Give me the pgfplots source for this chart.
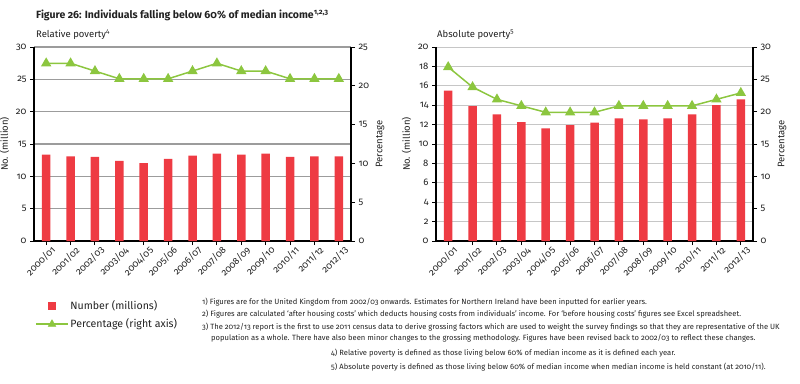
\documentclass[border=0pt]{standalone}
\usepackage{fontspec}
\setmainfont{Fira Sans}[Numbers=OldStyle]
\usepackage{pgfplots}
\pgfplotsset{compat=1.18}
\definecolor{barred}{HTML}{EE3B43}
\definecolor{lgreen}{HTML}{8CC63F}
\definecolor{gridA}{HTML}{9C9C9C}
\definecolor{gridB}{HTML}{C6C6C6}
\definecolor{txt}{HTML}{222222}
\pgfplotsset{
  base/.style={
    scale only axis, width=317pt, height=194pt, anchor=south west,
    xmin=-0.5, xmax=12.5, xtick={0,...,12},
    /pgf/number format/assume math mode=true,
    tick label style={font=\fontsize{9.5}{10}\selectfont, text=txt},
    label style={font=\fontsize{9.5}{10}\selectfont, text=txt},
    tick align=outside, major tick length=4pt,
    every tick/.style={black, line width=1pt},
    axis line style={black, line width=1.2pt},
    scaled ticks=false,
    xticklabels={2000/01,2001/02,2002/03,2003/04,2004/05,2005/06,2006/07,2007/08,2008/09,2009/10,2010/11,2011/12,2012/13},
    xticklabel style={rotate=45, anchor=north east, inner sep=0pt, xshift=3pt, yshift=-3pt},
  },
  barplot/.style={ybar, bar width=8.5pt, fill=barred, draw=none, bar shift=0pt, forget plot},
  lineplot/.style={lgreen, line width=1.5pt, mark=triangle*, mark size=4.5pt, mark options={solid, fill=lgreen}},
}
\begin{document}
\begin{tikzpicture}
\path[use as bounding box] (0pt,0pt) rectangle (800pt,-383pt);

% ---------- Left chart ----------
\begin{axis}[base, at={(34pt,-241pt)},
  axis x line*=bottom, axis y line*=left,
  ymin=0, ymax=30, ytick={0,5,...,30},
  ymajorgrids, grid style={gridA, line width=1.2pt},
  ylabel={No. (million)},
  legend style={draw=none, fill=none, at={(-0.005,-0.285)}, anchor=north west,
    font=\fontsize{10.6}{13}\selectfont, text=txt, row sep=4pt,
    nodes={inner sep=2pt}},
  legend cell align=left,
]
\addplot[barplot] coordinates {(0,13.35) (1,13.1) (2,13.0) (3,12.4) (4,12.05) (5,12.7) (6,13.2) (7,13.5) (8,13.35) (9,13.5) (10,13.0) (11,13.1) (12,13.1)};
\addlegendimage{legend image code/.code={\path (0cm,0cm) (1.1cm,0cm); \fill[barred] (0.55cm-3.5pt,-3.5pt) rectangle (0.55cm+3.5pt,3.5pt);}}
\addlegendimage{legend image code/.code={\draw[lgreen, line width=1.5pt] (0cm,0cm) -- (1.1cm,0cm); \fill[lgreen] (0.55cm,0cm) ++(90:4.5pt) -- ++(-120:7.79pt) -- ++(0:7.79pt) -- cycle;}}
\legend{Number (millions), Percentage (right axis)}
\end{axis}
\begin{axis}[base, at={(34pt,-241pt)},
  axis x line=none, axis y line*=right,
  ymin=0, ymax=25, ytick={0,5,...,25},
  ylabel={Percentage},
]
\addplot[lineplot] coordinates {(0,22.9) (1,22.9) (2,21.9) (3,20.9) (4,20.9) (5,20.9) (6,21.9) (7,22.9) (8,21.9) (9,21.9) (10,20.9) (11,20.9) (12,20.9)};
\end{axis}

% ---------- Right chart ----------
\begin{axis}[base, at={(436pt,-241pt)},
  axis x line*=bottom, axis y line*=left,
  ymin=0, ymax=20, ytick={0,2,...,20},
  ymajorgrids, grid style={gridB, line width=1pt},
  ylabel={No. (million)},
]
\addplot[barplot] coordinates {(0,15.5) (1,13.9) (2,13.05) (3,12.25) (4,11.6) (5,11.95) (6,12.2) (7,12.65) (8,12.55) (9,12.65) (10,13.05) (11,14.0) (12,14.6)};
\end{axis}
\begin{axis}[base, at={(436pt,-241pt)},
  axis x line=none, axis y line*=right,
  ymin=0, ymax=30, ytick={0,5,...,30},
  ylabel={Percentage},
]
\addplot[lineplot] coordinates {(0,26.9) (1,23.8) (2,21.9) (3,20.9) (4,19.9) (5,19.9) (6,19.9) (7,20.9) (8,20.9) (9,20.9) (10,20.9) (11,21.9) (12,22.9)};
\end{axis}

% ---------- Titles ----------
\node[anchor=base west, inner sep=0pt, text=txt, font=\bfseries\fontsize{10.5}{12}\selectfont] at (36pt,-18.5pt) {Figure 26: Individuals falling below 60\% of median income\textsuperscript{1,2,3}};
\node[anchor=base west, inner sep=0pt, text=txt, font=\fontsize{9.5}{11}\selectfont] at (36pt,-37.5pt) {Relative poverty\textsuperscript{4}};
\node[anchor=base west, inner sep=0pt, text=txt, font=\fontsize{9.5}{11}\selectfont] at (437pt,-37.5pt) {Absolute poverty\textsuperscript{5}};

% ---------- Footnotes ----------
\begin{scope}[every node/.style={anchor=base west, inner sep=0pt, text=txt, font=\fontsize{7.6}{8}\selectfont}]
\node at (202pt,-304pt) {1) Figures are for the United Kingdom from 2002/03 onwards. Estimates for Northern Ireland have been inputted for earlier years.};
\node at (202pt,-316pt) {2) Figures are calculated `after housing costs' which deducts housing costs from individuals' income. For `before housing costs' figures see Excel spreadsheet.};
\node at (202pt,-329pt) {3) The 2012/13 report is the first to use 2011 census data to derive grossing factors which are used to weight the survey findings so that they are representative of the UK};
\node at (211pt,-340pt) {population as a whole. There have also been minor changes to the grossing methodology. Figures have been revised back to 2002/03 to reflect these changes.};
\node at (331pt,-355pt) {4) Relative poverty is defined as those living below 60\% of median income as it is defined each year.};
\node at (331pt,-369pt) {5) Absolute poverty is defined as those living below 60\% of median income when median income is held constant (at 2010/11).};
\end{scope}
\end{tikzpicture}
\end{document}
